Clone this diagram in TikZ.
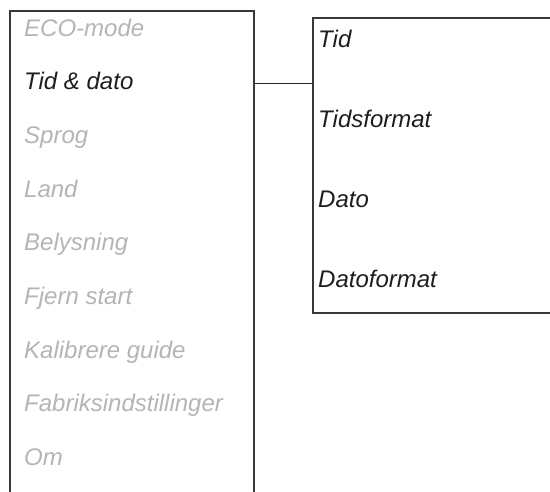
\documentclass[tikz,border=0pt]{standalone}
\usepackage{fontspec}
\setmainfont{Liberation Sans}
\definecolor{offgrey}{RGB}{181,181,185}
\definecolor{ongrey}{RGB}{30,30,30}
\begin{document}
\begin{tikzpicture}[x=1pt,y=-1pt,
  frame/.style={draw=black!78,line width=1.3pt,inner sep=0pt,outer sep=0pt,rectangle},
  item/.style={anchor=base west,inner sep=0pt,font=\fontsize{24}{28}\selectfont\itshape},
  off/.style={item,text=offgrey},
  on/.style={item,text=ongrey},
  link/.style={draw=black!85,line width=1pt}]
\useasboundingbox (0,0) rectangle (550,491);
\clip (0,0) rectangle (550,491);
\fill[white] (0,0) rectangle (550,491);
% boxes (extend beyond the picture edges, clipped)
\node[frame,minimum width=244pt,minimum height=520pt,anchor=north west] (menu) at (10,11) {};
\node[frame,minimum width=260pt,minimum height=295pt,anchor=north west] (sub) at (313,18) {};
% left menu items
\node[off] (eco)  at (24,36)    {ECO-mode};
\node[on]  (tdd)  at (24,89.7)  {Tid \& dato};
\node[off] (spr)  at (24,143.4) {Sprog};
\node[off] (land) at (24,197.1) {Land};
\node[off] (bel)  at (24,250.8) {Belysning};
\node[off] (fje)  at (24,304.5) {Fjern start};
\node[off] (kal)  at (24,358.2) {Kalibrere guide};
\node[off] (fab)  at (24,411.9) {Fabriksindstillinger};
\node[off] (om)   at (24,465.6) {Om};
% submenu items
\node[on] (tid)  at (318,47.5)  {Tid};
\node[on] (tfm)  at (318,127.4) {Tidsformat};
\node[on] (dat)  at (318,207.3) {Dato};
\node[on] (dfm)  at (318,287.2) {Datoformat};
% connector
\coordinate (c) at (280,83.3);
\draw[link] (c -| menu.east) -- (c -| sub.west);
\end{tikzpicture}
\end{document}
